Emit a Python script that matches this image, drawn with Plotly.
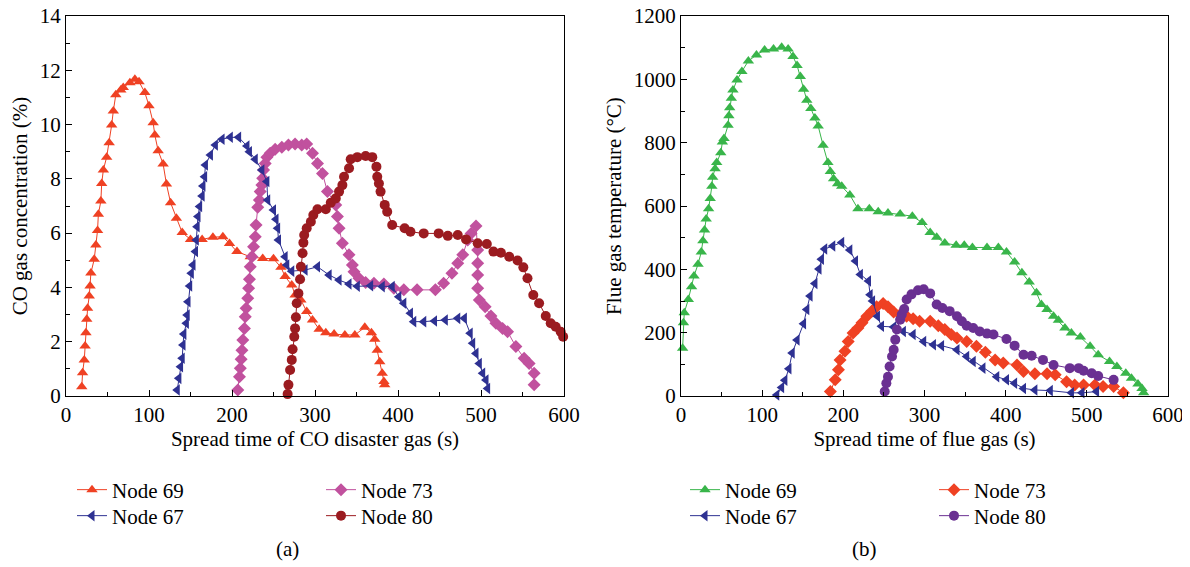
import plotly.graph_objects as go

# ---------------- Panel (a): CO gas concentration (%) ----------------
a69_t = [19, 20, 22, 23, 24, 25, 26, 28, 29, 30, 34, 36, 38, 39, 42, 43, 45, 49, 52, 55, 57, 60, 66, 69, 77, 83, 88, 95, 100, 105, 107, 111, 117, 121, 126, 133, 140, 150, 164, 177, 189, 197, 206, 222, 237, 250, 259, 264, 272, 276, 283, 290, 297, 305, 313, 323, 336, 348, 360, 368, 372, 375, 378, 381, 383, 384]
a69_v = [0.34, 0.86, 1.33, 1.84, 2.33, 2.83, 3.23, 3.68, 4.05, 4.53, 5.04, 5.56, 6.10, 6.70, 7.18, 7.83, 8.33, 8.80, 9.33, 9.98, 10.50, 11.10, 11.27, 11.37, 11.54, 11.67, 11.58, 11.18, 10.69, 10.07, 9.62, 9.04, 8.55, 7.81, 7.12, 6.55, 6.02, 5.77, 5.77, 5.85, 5.87, 5.62, 5.32, 5.13, 5.07, 5.06, 4.74, 4.40, 4.09, 3.72, 3.54, 3.11, 2.80, 2.46, 2.33, 2.28, 2.25, 2.25, 2.53, 2.33, 2.09, 1.69, 1.26, 0.84, 0.53, 0.41]

a67_t = [134, 136, 138, 140, 141, 142, 145, 146, 147, 149, 151, 153, 156, 157, 158, 159, 161, 164, 165, 167, 168, 174, 180, 188, 198, 208, 218, 221, 228, 236, 242, 243, 250, 253, 255, 256, 264, 266, 272, 288, 303, 317, 329, 341, 351, 367, 381, 393, 401, 407, 415, 419, 431, 444, 457, 472, 480, 487, 490, 494, 498, 502, 506, 508]
a67_v = [0.22, 0.65, 1.08, 1.39, 1.88, 2.28, 2.68, 2.98, 3.47, 4.05, 4.52, 4.83, 5.32, 5.75, 6.24, 6.61, 6.98, 7.37, 7.74, 8.08, 8.51, 8.88, 9.25, 9.46, 9.53, 9.53, 9.21, 9.00, 8.72, 8.33, 7.90, 7.22, 6.85, 6.51, 6.18, 5.75, 5.13, 4.83, 4.60, 4.64, 4.76, 4.46, 4.27, 4.13, 4.04, 4.06, 4.03, 4.03, 3.66, 3.42, 3.05, 2.74, 2.74, 2.76, 2.80, 2.86, 2.86, 2.31, 1.94, 1.57, 1.20, 0.84, 0.59, 0.28]

a73_t = [207, 209, 210, 211, 212, 213, 215, 216, 217, 219, 220, 221, 222, 224, 226, 228, 229, 231, 233, 234, 236, 237, 238, 240, 242, 246, 252, 260, 268, 276, 284, 290, 297, 303, 309, 315, 325, 327, 329, 333, 341, 345, 347, 353, 361, 371, 383, 395, 407, 423, 445, 455, 465, 472, 478, 484, 488, 494, 496, 496, 496, 496, 498, 505, 512, 518, 526, 532, 542, 552, 558, 564, 564]
a73_v = [0.22, 0.71, 1.02, 1.35, 1.69, 2.06, 2.49, 2.92, 3.23, 3.60, 3.97, 4.30, 4.76, 5.13, 5.50, 5.87, 6.30, 6.95, 7.22, 7.53, 7.77, 8.02, 8.33, 8.57, 8.80, 8.94, 9.09, 9.16, 9.25, 9.28, 9.25, 9.28, 8.94, 8.57, 8.20, 7.53, 7.04, 6.61, 6.18, 5.63, 5.20, 4.83, 4.58, 4.34, 4.18, 4.15, 4.13, 3.97, 3.91, 3.91, 3.91, 4.15, 4.52, 4.89, 5.20, 5.75, 5.99, 6.26, 5.38, 4.89, 4.46, 3.97, 3.54, 3.29, 2.95, 2.68, 2.49, 2.37, 1.82, 1.39, 1.20, 0.84, 0.41]

a80_t = [267, 268, 270, 272, 273, 275, 276, 277, 278, 280, 282, 283, 285, 286, 287, 290, 295, 298, 303, 313, 319, 325, 329, 333, 335, 341, 343, 351, 361, 369, 374, 375, 377, 379, 384, 387, 393, 408, 415, 431, 449, 460, 472, 482, 496, 507, 515, 524, 534, 544, 551, 556, 563, 570, 578, 584, 590, 596, 599]
a80_v = [0.07, 0.41, 0.96, 1.33, 1.72, 2.18, 2.49, 2.90, 3.42, 3.78, 4.30, 4.76, 5.26, 5.65, 5.93, 6.18, 6.42, 6.67, 6.88, 6.88, 7.12, 7.28, 7.53, 7.77, 8.08, 8.39, 8.72, 8.80, 8.84, 8.80, 8.45, 8.08, 7.83, 7.53, 7.04, 6.79, 6.30, 6.18, 6.05, 5.99, 5.99, 5.90, 5.93, 5.77, 5.63, 5.60, 5.32, 5.28, 5.13, 4.99, 4.74, 4.34, 3.72, 3.42, 2.95, 2.68, 2.55, 2.37, 2.18]

# ---------------- Panel (b): Flue gas temperature (°C) ----------------
b69_t = [2, 3, 4, 9, 13, 16, 21, 25, 27, 29, 31, 34, 36, 38, 39, 42, 44, 49, 51, 53, 58, 59, 60, 62, 64, 69, 75, 83, 93, 103, 114, 124, 132, 138, 143, 147, 151, 155, 160, 165, 169, 175, 181, 184, 188, 193, 198, 208, 218, 232, 243, 255, 270, 285, 297, 307, 315, 325, 339, 349, 359, 377, 391, 401, 411, 420, 429, 438, 444, 451, 459, 465, 473, 481, 492, 504, 514, 528, 537, 548, 555, 563, 568, 570]
b69_v = [151, 231, 263, 305, 345, 379, 416, 455, 490, 524, 559, 591, 624, 662, 691, 718, 737, 768, 802, 813, 855, 885, 910, 940, 966, 998, 1025, 1058, 1077, 1093, 1096, 1101, 1096, 1072, 1044, 1009, 969, 934, 908, 878, 853, 792, 737, 709, 686, 670, 662, 635, 591, 591, 582, 578, 575, 568, 548, 516, 501, 483, 476, 476, 469, 469, 469, 455, 423, 389, 360, 326, 289, 273, 252, 239, 215, 199, 186, 157, 130, 109, 93, 72, 56, 38, 24, 10]

b67_t = [118, 124, 128, 133, 137, 143, 151, 155, 159, 165, 170, 173, 177, 187, 198, 208, 215, 221, 231, 233, 236, 242, 247, 262, 274, 286, 299, 311, 321, 340, 352, 360, 372, 389, 401, 411, 422, 436, 455, 481, 494, 512]
b67_v = [3, 27, 50, 86, 136, 177, 228, 273, 316, 355, 401, 432, 464, 474, 485, 461, 426, 384, 363, 320, 300, 252, 220, 218, 204, 194, 172, 162, 159, 146, 125, 109, 88, 61, 51, 40, 24, 19, 17, 10, 10, 14]

b73_t = [184, 190, 194, 196, 202, 206, 212, 218, 223, 229, 235, 241, 249, 255, 262, 270, 278, 286, 294, 307, 317, 325, 333, 340, 352, 364, 375, 387, 397, 414, 422, 436, 451, 461, 475, 485, 496, 510, 520, 533, 545]
b73_v = [14, 51, 83, 114, 141, 172, 199, 215, 231, 252, 268, 282, 292, 282, 265, 257, 252, 244, 236, 236, 222, 210, 194, 183, 172, 157, 138, 114, 104, 98, 77, 70, 70, 67, 45, 35, 35, 35, 30, 30, 10]

b80_t = [251, 253, 255, 257, 260, 262, 264, 266, 270, 272, 275, 278, 284, 292, 299, 307, 315, 322, 331, 340, 346, 352, 360, 368, 377, 385, 401, 411, 422, 432, 446, 459, 479, 490, 496, 506, 514, 533]
b80_v = [14, 40, 61, 93, 125, 146, 178, 210, 241, 257, 275, 305, 321, 334, 337, 324, 289, 278, 268, 252, 236, 222, 215, 204, 197, 194, 180, 159, 130, 127, 114, 98, 88, 88, 80, 72, 63, 51]

x_ticks = [0, 100, 200, 300, 400, 500, 600]

FONT = "Liberation Serif"
FS = 21

# The page body has an 8px default margin: size the figure so it fits the window.
OFF = 8
W, H = 1190 - OFF, 567 - OFF
def px_x(p): return (p - OFF) / W
def px_y(p): return (H - (p - OFF)) / H

fig = go.Figure()

def add(t, v, name, color, symbol, xa, ya, legend):
    fig.add_trace(go.Scatter(
        x=t, y=v, name=name, mode="lines+markers",
        line=dict(color=color, width=1),
        marker=dict(symbol=symbol, size=10, color=color, line=dict(width=0)),
        xaxis=xa, yaxis=ya, legend=legend,
        cliponaxis=False,
    ))

C_RED = "#EF4123"
C_NAVY = "#2E3192"
C_PINK = "#C1519E"
C_DRED = "#9B1B20"
C_GREEN = "#39B54A"
C_PURP = "#6A3092"

add(a69_t, a69_v, "Node 69", C_RED, "triangle-up", "x", "y", "legend")
add(a73_t, a73_v, "Node 73", C_PINK, "diamond", "x", "y", "legend")
add(a67_t, a67_v, "Node 67", C_NAVY, "triangle-left", "x", "y", "legend2")
add(a80_t, a80_v, "Node 80", C_DRED, "circle", "x", "y", "legend2")

add(b69_t, b69_v, "Node 69", C_GREEN, "triangle-up", "x2", "y2", "legend3")
add(b73_t, b73_v, "Node 73", C_RED, "diamond", "x2", "y2", "legend3")
add(b67_t, b67_v, "Node 67", C_NAVY, "triangle-left", "x2", "y2", "legend4")
add(b80_t, b80_v, "Node 80", C_PURP, "circle", "x2", "y2", "legend4")

axis_common = dict(
    showline=True, linecolor="black", linewidth=1.3, mirror=True,
    ticks="inside", ticklen=6, tickwidth=1.2, tickcolor="black",
    showgrid=False, zeroline=False, automargin=False,
    ticklabeloverflow="allow",
    tickfont=dict(family=FONT, size=FS, color="black"),
    minor=dict(ticks="inside", ticklen=3.5, tickwidth=1.2, tickcolor="black", showgrid=False),
)

def leg(xpx, ypx):
    return dict(orientation="h", entrywidth=204,
                x=px_x(xpx), xanchor="left", y=px_y(ypx), yanchor="middle",
                font=dict(family=FONT, size=FS), bgcolor="rgba(0,0,0,0)",
                itemclick=False, itemdoubleclick=False)

fig.update_layout(
    width=W, height=H,
    margin=dict(l=0, r=0, t=0, b=0, autoexpand=False),
    paper_bgcolor="white", plot_bgcolor="white",
    font=dict(family=FONT, size=FS, color="black"),
    xaxis=dict(domain=[px_x(66), px_x(564)], range=[0, 600], tickvals=x_ticks,
               anchor="y", minor_dtick=50,
               title=dict(text="Spread time of CO disaster gas (s)", font=dict(size=FS), standoff=4),
               **axis_common),
    yaxis=dict(domain=[px_y(396), px_y(16)], range=[0, 14], dtick=2, anchor="x",
               minor_dtick=1,
               title=dict(text="CO gas concentration (%)", font=dict(size=FS), standoff=6),
               **axis_common),
    xaxis2=dict(domain=[px_x(681), px_x(1168)], range=[0, 600], tickvals=x_ticks,
                anchor="y2", minor_dtick=50,
                title=dict(text="Spread time of flue gas (s)", font=dict(size=FS), standoff=4),
                **axis_common),
    yaxis2=dict(domain=[px_y(396), px_y(16)], range=[0, 1200], dtick=200, anchor="x2",
                minor_dtick=100,
                title=dict(text="Flue gas temperature (°C)", font=dict(size=FS), standoff=6),
                **axis_common),
    legend=leg(72, 490),
    legend2=leg(72, 516),
    legend3=leg(685, 490),
    legend4=leg(685, 516),
    showlegend=True,
)

fig.add_annotation(text="(a)", x=px_x(287), y=px_y(549), xref="paper", yref="paper",
                   showarrow=False, font=dict(family=FONT, size=FS), xanchor="center", yanchor="middle")
fig.add_annotation(text="(b)", x=px_x(864), y=px_y(549), xref="paper", yref="paper",
                   showarrow=False, font=dict(family=FONT, size=FS), xanchor="center", yanchor="middle")

fig.write_html("out.html")
